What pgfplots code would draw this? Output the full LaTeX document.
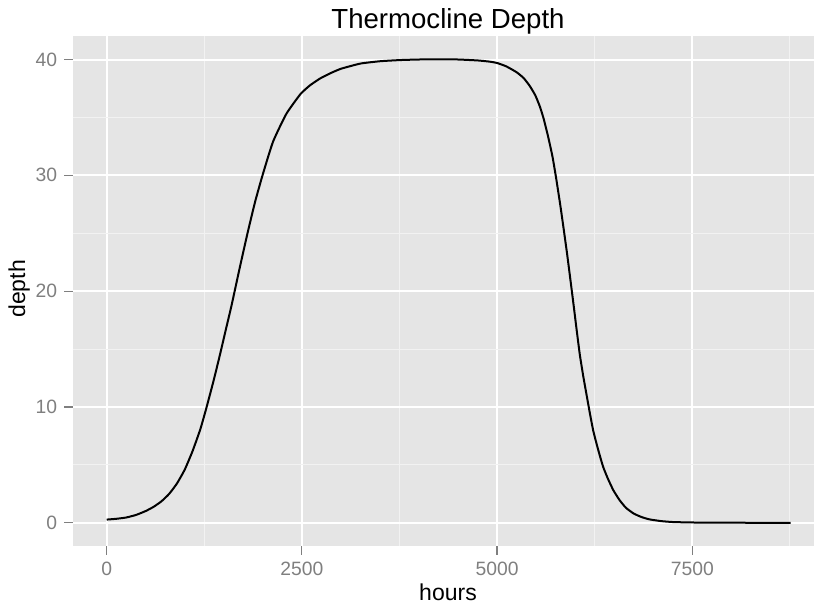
\documentclass[border=0pt]{standalone}
\usepackage{pgfplots}
\pgfplotsset{compat=1.18}
\usepackage{fontspec}
\setmainfont{Liberation Sans}
\definecolor{grey50}{HTML}{7F7F7F}
\definecolor{grey90}{HTML}{E5E5E5}
\definecolor{grey95}{HTML}{F2F2F2}
\begin{document}
\begin{tikzpicture}
\path[use as bounding box] (0pt,0pt) rectangle (814pt,605pt);
\begin{axis}[
  at={(72.5pt,59pt)}, anchor=south west,
  scale only axis, width=741.5pt, height=510pt,
  xmin=-438, xmax=9059, ymin=-2.0, ymax=42.03,
  axis background/.style={fill=grey90},
  axis line style={draw=none},
  xtick={0,2500,5000,7500}, ytick={0,10,20,30,40},
  minor xtick={1250,3750,6250,8750}, minor ytick={5,15,25,35},
  xtick pos=bottom, ytick pos=left,
  tick align=outside, major tick length=8.5pt, minor tick length=0pt,
  major tick style={grey50, line width=1.2pt},
  minor tick style={draw=none},
  grid=both,
  major grid style={white, line width=2pt},
  minor grid style={grey95, line width=1pt},
  scaled ticks=false,
  /pgf/number format/1000 sep={},
  /pgf/number format/assume math mode=true,
  tick label style={font=\fontsize{19.3}{22}\selectfont, color=grey50, inner sep=0pt},
  xticklabel style={anchor=base, yshift=-21.2pt},
  yticklabel style={anchor=east, xshift=-6.7pt},
  xlabel={hours}, ylabel={depth}, title={Thermocline Depth},
  label style={font=\fontsize{23}{26}\selectfont, inner sep=0pt},
  xlabel style={at={(axis description cs:0.5064,-0.1059)}, anchor=base},
  ylabel style={at={(axis description cs:-0.0638,0.504)}, anchor=base, rotate=0},
  title style={font=\fontsize{27.6}{30}\selectfont, inner sep=0pt, at={(axis description cs:0.5064,1.0151)}, anchor=base, yshift=-6pt},
]
\addplot[black, line width=2pt, smooth, tension=0.3] table {
x y
0 0.28
125 0.35
250 0.46
375 0.68
500 1.02
600 1.38
700 1.85
800 2.5
900 3.4
1000 4.6
1100 6.2
1200 8.1
1280 10.0
1370 12.3
1450 14.5
1530 16.8
1600 18.8
1700 21.9
1800 24.9
1900 27.7
2000 30.1
2130 32.9
2300 35.3
2480 37.0
2600 37.75
2730 38.35
2860 38.8
3000 39.2
3250 39.65
3500 39.85
3750 39.95
4000 40.0
4250 40.02
4500 40.0
4750 39.92
4900 39.82
5000 39.7
5120 39.4
5250 38.9
5340 38.4
5420 37.7
5490 36.9
5550 35.9
5600 34.8
5655 33.3
5710 31.6
5760 29.6
5810 27.4
5850 25.5
5895 23.3
5935 21.2
5980 18.8
6020 16.6
6060 14.5
6105 12.6
6150 10.9
6190 9.4
6230 8.0
6275 6.8
6320 5.7
6360 4.8
6420 3.8
6490 2.8
6570 1.95
6650 1.3
6750 0.8
6850 0.5
6950 0.3
7100 0.15
7250 0.07
7500 0.03
8000 0.01
8760 0.0
};
\end{axis}
\end{tikzpicture}
\end{document}
